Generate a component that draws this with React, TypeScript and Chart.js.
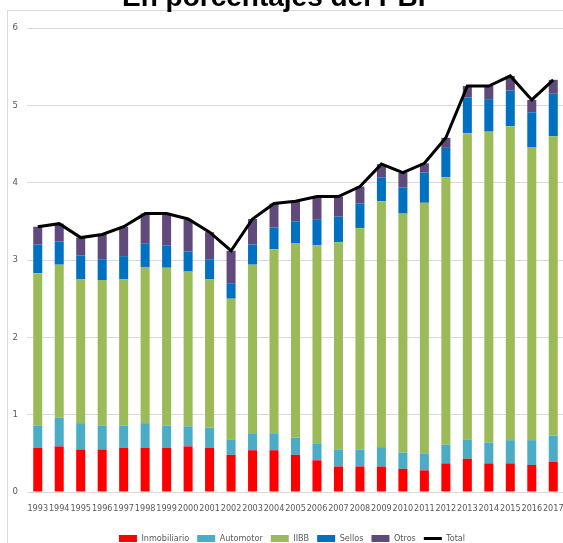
import React, { useEffect, useRef } from "react";
import { Chart, registerables } from "chart.js";

Chart.register(...registerables);

const years = ["1993","1994","1995","1996","1997","1998","1999","2000","2001","2002","2003","2004","2005","2006","2007","2008","2009","2010","2011","2012","2013","2014","2015","2016","2017"];
const inmobiliario = [0.57,0.59,0.55,0.55,0.57,0.57,0.57,0.59,0.57,0.48,0.54,0.54,0.48,0.41,0.33,0.33,0.33,0.30,0.28,0.37,0.43,0.37,0.37,0.35,0.39];
const automotor = [0.29,0.37,0.34,0.31,0.29,0.32,0.29,0.26,0.26,0.20,0.22,0.22,0.22,0.22,0.22,0.22,0.25,0.21,0.22,0.24,0.25,0.27,0.30,0.32,0.34];
const iibb = [1.97,1.98,1.86,1.88,1.89,2.02,2.04,2.00,1.92,1.82,2.18,2.38,2.52,2.56,2.68,2.86,3.18,3.09,3.24,3.46,3.96,4.02,4.06,3.79,3.87];
const sellos = [0.37,0.30,0.31,0.27,0.30,0.30,0.29,0.26,0.26,0.20,0.26,0.28,0.28,0.33,0.33,0.32,0.31,0.34,0.39,0.38,0.46,0.42,0.46,0.45,0.55];
const otros = [0.23,0.23,0.23,0.32,0.38,0.39,0.40,0.41,0.35,0.42,0.33,0.31,0.26,0.30,0.26,0.22,0.17,0.19,0.12,0.13,0.15,0.17,0.19,0.16,0.18];
const total = [3.43,3.47,3.29,3.33,3.43,3.60,3.60,3.53,3.36,3.12,3.53,3.73,3.76,3.82,3.82,3.95,4.24,4.13,4.25,4.58,5.25,5.25,5.38,5.07,5.33];
const yTicks = [0, 1, 2, 3, 4, 5, 6];

const FONT = "'Liberation Sans Narrow', 'DejaVu Sans Condensed', 'Arial Narrow', sans-serif";

export default function App() {
  const ref = useRef<HTMLCanvasElement | null>(null);

  useEffect(() => {
    if (!ref.current) return;
    const bar = (label: string, data: number[], color: string) => ({
      type: "bar" as const,
      label,
      data,
      backgroundColor: color,
      borderWidth: 0,
      stack: "main",
      order: 1,
      pointStyle: "rect",
    });
    const chart = new Chart(ref.current, {
      type: "bar",
      data: {
        labels: years,
        datasets: [
          bar("Inmobiliario", inmobiliario, "#FF0000"),
          bar("Automotor", automotor, "#4BACC6"),
          bar("IIBB", iibb, "#9BBB59"),
          bar("Sellos", sellos, "#0070C0"),
          bar("Otros", otros, "#604A7B"),
          {
            type: "line" as const,
            label: "Total",
            data: total,
            borderColor: "#000000",
            backgroundColor: "#000000",
            borderWidth: 3,
            pointRadius: 0,
            tension: 0,
            stack: "total",
            order: 0,
            pointStyle: "line",
          } as any,
        ],
      },
      options: {
        responsive: false,
        animation: false,
        layout: { padding: { top: 28, left: 0, right: 0, bottom: 0 } },
        datasets: {
          bar: { categoryPercentage: 1, barPercentage: 0.42 },
        },
        plugins: {
          title: { display: false },
          tooltip: { enabled: false },
          legend: {
            position: "bottom",
            labels: {
              usePointStyle: true,
              pointStyleWidth: 18,
              boxWidth: 18,
              boxHeight: 7,
              padding: 8,
              color: "#595959",
              font: { family: FONT, size: 9 },
              sort: (a: any, b: any) => a.datasetIndex - b.datasetIndex,
            },
          },
        },
        scales: {
          x: {
            stacked: true,
            grid: { display: false, drawTicks: false },
            border: { display: false },
            ticks: {
              color: "#595959",
              font: { family: FONT, size: 9 },
              padding: 11,
              maxRotation: 0,
              minRotation: 0,
              autoSkip: false,
            },
            afterFit: (s: any) => { s.height = 34; },
          },
          y: {
            stacked: true,
            min: 0,
            max: 6,
            afterBuildTicks: (s: any) => { s.ticks = yTicks.map((v) => ({ value: v })); },
            grid: { color: "#D9D9D9", lineWidth: 1, drawTicks: false },
            border: { display: false },
            ticks: {
              color: "#595959",
              font: { family: FONT, size: 9.5 },
              padding: 9,
            },
            afterFit: (s: any) => { s.width = 27; },
          },
          y2: {
            position: "right",
            display: true,
            grid: { display: false, drawTicks: false },
            border: { display: false },
            ticks: { display: false },
            afterFit: (s: any) => { s.width = 20; },
          },
        },
      } as any,
    });
    return () => chart.destroy();
  }, []);

  return (
    <div style={{ position: "fixed", left: 0, top: 0, width: 563, height: 543, overflow: "hidden", background: "#fff" }}>
      <div style={{ position: "absolute", left: 7, top: 10, width: 700, height: 700, border: "1px solid #D9D9D9", boxSizing: "border-box" }} />
      <canvas ref={ref} width={584} height={553} style={{ position: "absolute", left: 0, top: 0, width: 584, height: 553 }} />
      <div style={{ position: "absolute", left: 122, top: -17, fontFamily: "'Liberation Sans', Arial, sans-serif", fontWeight: "bold", fontSize: 28, lineHeight: "28px", color: "#000", whiteSpace: "nowrap" }}>
        En porcentajes del PBI
      </div>
    </div>
  );
}
